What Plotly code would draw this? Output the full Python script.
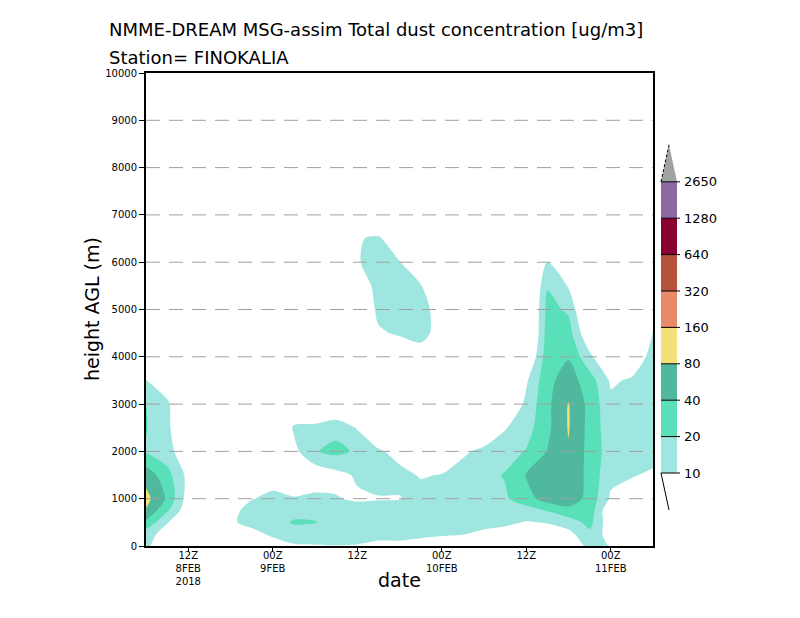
import numpy as np
import plotly.graph_objects as go

# ---------------- data ----------------
# forecast hours since 00Z 8 FEB 2018
hours = [6, 9, 12, 15, 18, 21, 24, 27, 30, 33, 36, 39, 42, 45, 48, 51, 54, 57, 60, 63, 66, 69, 72, 75, 78]
# height above ground level (m)
heights = [0, 250, 500, 750, 1000, 1500, 2000, 2500, 3000, 3500, 4000, 4500, 5000, 5500, 6000, 6500, 7000]

# dust concentration (ug/m3), one profile per time step (values at `heights`)
dust_profiles = [
    [12, 14, 35, 75, 100, 60, 19, 21, 20.5, 10.2, 5, 0, 0, 0, 0, 0, 0],        # 06Z 8FEB
    [5, 7, 10.5, 22, 36, 26, 13, 11, 11, 7, 3, 0, 0, 0, 0, 0, 0],              # 09Z
    [3, 3, 5, 6, 7, 8, 6, 6, 5, 3, 0, 0, 0, 0, 0, 0, 0],                       # 12Z
    [0, 0, 3, 3, 2, 0, 0, 0, 0, 0, 0, 0, 0, 0, 0, 0, 0],                       # 15Z
    [0, 4, 8.5, 7, 4, 0, 0, 0, 0, 0, 0, 0, 0, 0, 0, 0, 0],                     # 18Z
    [3, 7, 14, 15, 9.5, 4, 0, 0, 0, 0, 0, 0, 0, 0, 0, 0, 0],                   # 21Z
    [6, 12, 16, 16, 13, 6, 0, 3, 0, 0, 0, 0, 0, 0, 0, 0, 0],                   # 00Z 9FEB
    [9, 16, 21, 17, 11, 4, 8, 11, 5, 0, 0, 0, 0, 0, 0, 0, 0],                  # 03Z
    [9.5, 15, 20.5, 17, 12, 6, 19, 12, 4, 0, 0, 0, 0, 0, 0, 0, 0],             # 06Z
    [9.7, 15, 16, 15, 10.5, 8, 24, 16, 4, 0, 0, 0, 0, 0, 0, 0, 0],             # 09Z
    [9.5, 14, 15, 14, 9, 11, 18, 9.5, 3, 0, 0, 0, 4, 6, 9.5, 9.5, 3],          # 12Z
    [8, 13, 15, 14, 9.5, 14, 11, 5, 0, 0, 3, 9, 12, 13, 13, 11, 4],            # 15Z
    [8, 13, 15, 14, 9.7, 12, 8, 4, 0, 0, 5, 11, 14, 13, 10.3, 6, 3],           # 18Z
    [7, 12, 16, 15, 13, 9.5, 4, 0, 0, 0, 6, 14, 14, 10.5, 5, 0, 0],            # 21Z
    [6, 11, 16, 16, 14, 10.3, 5, 0, 0, 0, 3, 6.5, 6.5, 4, 0, 0, 0],            # 00Z 10FEB
    [5, 10.3, 16, 17, 16, 13, 9, 4, 0, 0, 0, 0, 0, 0, 0, 0, 0],                # 03Z
    [4, 8, 14, 17, 18, 16, 12, 5, 0, 0, 0, 0, 0, 0, 0, 0, 0],                  # 06Z
    [3, 7, 12, 16, 18, 21, 15, 9.5, 4, 2, 0, 0, 0, 0, 0, 0, 0],                # 09Z
    [3, 6, 9.5, 15, 30, 42, 21, 15, 12, 9, 4, 0, 0, 0, 0, 0, 0],               # 12Z
    [3, 6, 10.5, 21, 55, 60, 41, 34, 34, 33, 30, 27, 25, 19, 10.5, 4, 0],      # 15Z
    [4, 8, 14, 32, 60, 70, 75, 84, 83, 55, 38, 27, 18, 9.5, 4, 0, 0],          # 18Z
    [14, 17, 25, 30, 32, 32, 32, 32, 32, 28, 12, 5, 3, 0, 0, 0, 0],            # 21Z
    [9.5, 7, 6, 5, 9, 12, 14, 13, 12, 9, 4, 0, 0, 0, 0, 0, 0],                 # 00Z 11FEB
    [3, 3, 4, 5, 7, 10.5, 14, 14, 13, 11, 6, 0, 0, 0, 0, 0, 0],                # 03Z
    [2, 2, 3, 4, 5, 9, 13, 14, 14, 13, 13, 10.5, 5, 0, 0, 0, 0],               # 06Z
]

# contour levels (ug/m3) and their fill colours
levels = [10, 20, 40, 80, 160, 320, 640, 1280, 2650]
level_colors = ["#a0e6e0", "#5ae0b8", "#50b89c", "#f4e07a", "#e8896a",
                "#b4503c", "#8a0030", "#8e68a2"]
above_color = "#a0a4a0"

x_tickvals = [12, 24, 36, 48, 60, 72]
x_ticktext = ["12Z<br>8FEB<br>2018", "00Z<br>9FEB", "12Z", "00Z<br>10FEB", "12Z", "00Z<br>11FEB"]
y_tickvals = list(range(0, 10001, 1000))
y_ticktext = [str(v) for v in y_tickvals]
grid_heights = list(range(1000, 10000, 1000))

# ---------------- figure ----------------
FONT = "DejaVu Sans"
conc = np.array(dust_profiles, dtype=float).T           # rows = heights, cols = hours
zlog = np.log2(np.maximum(conc, 2.5) / 10.0)             # level k  <->  10 * 2**k

colors_all = ["#ffffff"] + level_colors + [above_color]
colorscale = [[i / (len(colors_all) - 1), c] for i, c in enumerate(colors_all)]

fig = go.Figure()
fig.add_trace(go.Contour(
    x=hours, y=heights, z=zlog,
    autocontour=False,
    contours=dict(start=0, end=8, size=1, coloring="fill", showlines=False),
    colorscale=colorscale, showscale=False,
    line=dict(width=0, smoothing=0.8),
    hoverinfo="skip",
))

# plot-area geometry in pixels (for legend / text placement)
W, H = 800, 618
PL, PR, PT, PB = 146, 653, 73, 546


def px(x):
    return (x - PL) / (PR - PL)


def py(y):
    return (PB - y) / (PB - PT)


shapes = []
for g in grid_heights:
    shapes.append(dict(type="line", xref="paper", yref="y", x0=0, x1=1, y0=g, y1=g,
                       line=dict(color="#a0a0a0", width=1, dash="14px,9px"), layer="above"))

# custom colour bar
cb_x0, cb_x1, cb_bottom, cb_step = 661, 677, 473, 36.4
for i, col in enumerate(level_colors):
    shapes.append(dict(type="rect", xref="paper", yref="paper",
                       x0=px(cb_x0), x1=px(cb_x1),
                       y0=py(cb_bottom - i * cb_step), y1=py(cb_bottom - (i + 1) * cb_step),
                       fillcolor=col, line=dict(width=0), layer="above"))
top_y = cb_bottom - len(level_colors) * cb_step
apex_y = top_y - 37
mid_x = (cb_x0 + cb_x1) / 2
shapes.append(dict(type="path", xref="paper", yref="paper",
                   path=f"M {px(cb_x0)},{py(top_y)} L {px(cb_x1)},{py(top_y)} L {px(mid_x)},{py(apex_y)} Z",
                   fillcolor=above_color, line=dict(width=0), layer="above"))
shapes.append(dict(type="line", xref="paper", yref="paper",
                   x0=px(cb_x0), y0=py(top_y), x1=px(mid_x), y1=py(apex_y),
                   line=dict(color="black", width=1, dash="3px,2px"), layer="above"))
shapes.append(dict(type="line", xref="paper", yref="paper",
                   x0=px(cb_x0), y0=py(cb_bottom), x1=px(mid_x), y1=py(cb_bottom + 37),
                   line=dict(color="black", width=1), layer="above"))

annotations = []
for i, lv in enumerate(levels):
    yy = cb_bottom - i * cb_step
    shapes.append(dict(type="line", xref="paper", yref="paper",
                       x0=px(cb_x0), x1=px(680), y0=py(yy), y1=py(yy),
                       line=dict(color="black", width=1), layer="above"))
    annotations.append(dict(xref="paper", yref="paper", x=px(682), y=py(yy),
                            xanchor="left", yanchor="middle", showarrow=False,
                            text=str(lv), font=dict(family=FONT, size=13, color="black")))

annotations += [
    dict(xref="paper", yref="paper", x=px(107), y=py(29), xanchor="left", yanchor="middle",
         showarrow=False, text="NMME-DREAM MSG-assim Total dust concentration [ug/m3]",
         font=dict(family=FONT, size=18, color="black")),
    dict(xref="paper", yref="paper", x=px(107), y=py(57), xanchor="left", yanchor="middle",
         showarrow=False, text="Station= FINOKALIA",
         font=dict(family=FONT, size=18, color="black")),
    dict(xref="paper", yref="paper", x=px(399), y=py(580), xanchor="center", yanchor="middle",
         showarrow=False, text="date", font=dict(family=FONT, size=19, color="black")),
    dict(xref="paper", yref="paper", x=px(92), y=py(309), xanchor="center", yanchor="middle",
         showarrow=False, text="height AGL (m)", textangle=-90,
         font=dict(family=FONT, size=19, color="black")),
]

fig.update_layout(
    width=W, height=H,
    margin=dict(l=PL, r=W - PR, t=PT, b=H - PB),
    paper_bgcolor="white", plot_bgcolor="white",
    shapes=shapes, annotations=annotations,
    font=dict(family=FONT, color="black"),
    xaxis=dict(range=[6, 78], tickvals=x_tickvals, ticktext=x_ticktext,
               ticks="outside", ticklen=4, tickwidth=1, tickcolor="black",
               ticklabelstandoff=-5,
               showline=True, linewidth=2, linecolor="black", mirror=True,
               showgrid=False, zeroline=False, tickfont=dict(family=FONT, size=10)),
    yaxis=dict(range=[0, 10000], tickvals=y_tickvals, ticktext=y_ticktext,
               ticks="outside", ticklen=5, tickwidth=1, tickcolor="black",
               showline=True, linewidth=2, linecolor="black", mirror=True,
               showgrid=False, zeroline=False, tickfont=dict(family=FONT, size=10)),
)

fig.write_html("out.html", config={"displayModeBar": False},
               post_script="document.body.style.margin='0';document.body.style.overflow='hidden';")
